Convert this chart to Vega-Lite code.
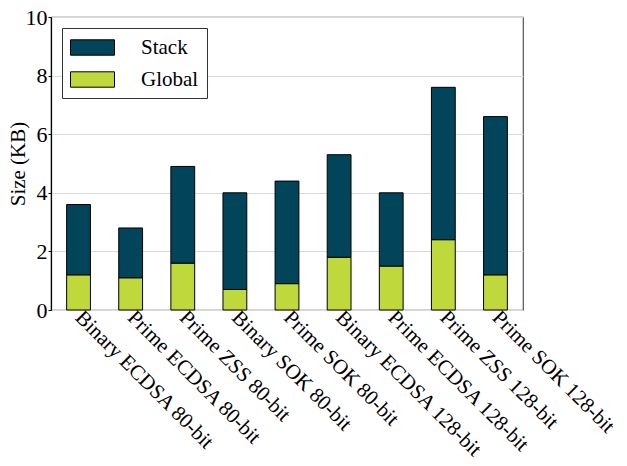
{
  "$schema": "https://vega.github.io/schema/vega-lite/v6.json",
  "autosize": "none",
  "width": 472,
  "height": 293,
  "padding": {"left": 51, "top": 17, "right": 104, "bottom": 156},
  "background": "white",
  "config": {
    "font": "Liberation Serif",
    "axis": {"labelFont": "Liberation Serif", "titleFont": "Liberation Serif"},
    "legend": {"labelFont": "Liberation Serif"},
    "view": {"stroke": "#555555", "strokeWidth": 1.2}
  },
  "data": {
    "values": [
      {"name": "Binary ECDSA 80-bit", "type": "Global", "kb": 1.2},
      {"name": "Binary ECDSA 80-bit", "type": "Stack", "kb": 2.4},
      {"name": "Prime ECDSA 80-bit", "type": "Global", "kb": 1.1},
      {"name": "Prime ECDSA 80-bit", "type": "Stack", "kb": 1.7},
      {"name": "Prime ZSS 80-bit", "type": "Global", "kb": 1.6},
      {"name": "Prime ZSS 80-bit", "type": "Stack", "kb": 3.3},
      {"name": "Binary SOK 80-bit", "type": "Global", "kb": 0.7},
      {"name": "Binary SOK 80-bit", "type": "Stack", "kb": 3.3},
      {"name": "Prime SOK 80-bit", "type": "Global", "kb": 0.9},
      {"name": "Prime SOK 80-bit", "type": "Stack", "kb": 3.5},
      {"name": "Binary ECDSA 128-bit", "type": "Global", "kb": 1.8},
      {"name": "Binary ECDSA 128-bit", "type": "Stack", "kb": 3.5},
      {"name": "Prime ECDSA 128-bit", "type": "Global", "kb": 1.5},
      {"name": "Prime ECDSA 128-bit", "type": "Stack", "kb": 2.5},
      {"name": "Prime ZSS 128-bit", "type": "Global", "kb": 2.4},
      {"name": "Prime ZSS 128-bit", "type": "Stack", "kb": 5.2},
      {"name": "Prime SOK 128-bit", "type": "Global", "kb": 1.2},
      {"name": "Prime SOK 128-bit", "type": "Stack", "kb": 5.4}
    ]
  },
  "mark": {"type": "bar", "stroke": "#000000", "strokeWidth": 1},
  "encoding": {
    "x": {
      "field": "name",
      "type": "nominal",
      "sort": null,
      "scale": {"paddingInner": 0.543, "paddingOuter": 0.3},
      "axis": {
        "title": null,
        "labelAngle": 45,
        "labelAlign": "left",
        "labelBaseline": "middle",
        "labelFontSize": 21,
        "labelColor": "#000000",
        "labelPadding": 4,
        "ticks": false,
        "domain": false,
        "labelLimit": 400
      }
    },
    "y": {
      "field": "kb",
      "type": "quantitative",
      "stack": "zero",
      "scale": {"domain": [0, 10], "nice": false},
      "axis": {
        "title": "Size (KB)",
        "titleFontSize": 21,
        "titleFontWeight": "normal",
        "titleColor": "#000000",
        "titleX": -33,
        "titleBaseline": "middle",
        "values": [0, 2, 4, 6, 8, 10],
        "labelFontSize": 22,
        "labelColor": "#000000",
        "labelPadding": 1,
        "ticks": true,
        "tickSize": 3,
        "tickColor": "#000000",
        "domain": true,
        "domainColor": "#000000",
        "domainWidth": 1.2,
        "gridColor": "#d9d9d9",
        "gridWidth": 1.2
      }
    },
    "color": {
      "field": "type",
      "type": "nominal",
      "scale": {"domain": ["Stack", "Global"], "range": ["#02445a", "#bfd93c"]},
      "legend": {
        "title": null,
        "orient": "none",
        "legendX": 11,
        "legendY": 11,
        "symbolType": "M-1,-0.7H3V0.7H-1Z",
        "symbolSize": 484,
        "symbolStrokeColor": "#000000",
        "symbolStrokeWidth": 1,
        "symbolOpacity": 1,
        "labelFontSize": 21,
        "labelColor": "#000000",
        "labelOffset": 48,
        "rowPadding": 10,
        "padding": 8,
        "strokeColor": "#333333",
        "fillColor": "white"
      }
    },
    "order": {"field": "type", "sort": "ascending"}
  }
}
